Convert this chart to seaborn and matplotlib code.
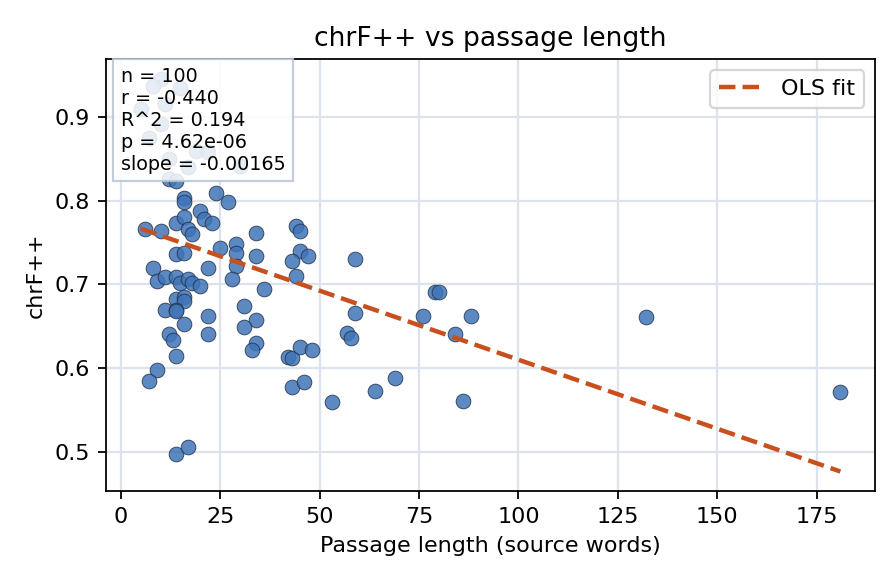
import numpy as np
import pandas as pd
import matplotlib
matplotlib.use("Agg")
import matplotlib.pyplot as plt
import seaborn as sns

# passage length (source words) and chrF++ per passage
passage_len = [10, 8, 15, 5, 11, 10, 7, 19, 22, 12, 17, 30, 12, 14,
               16, 16, 24, 27, 6, 10, 14, 16, 20, 21, 23, 17, 18, 25,
               14, 16, 8, 9, 11, 14, 15, 17, 18, 20, 22, 29, 29, 29, 28,
               34, 34, 14, 16, 16, 11, 14, 14, 22, 16, 22, 12, 13, 14, 9,
               7, 14, 17, 36, 31, 34, 31, 34, 33, 44, 45, 45, 43, 47, 44,
               59, 42, 43, 45, 48, 43, 46, 53, 59, 57, 58, 64, 69, 79, 80,
               76, 88, 84, 86, 132, 181]
chrf = [0.946, 0.937, 0.935, 0.910, 0.916, 0.892, 0.875, 0.859, 0.858,
        0.850, 0.840, 0.841, 0.826, 0.824,
        0.803, 0.799, 0.809, 0.798, 0.766, 0.764, 0.774, 0.780, 0.788,
        0.778, 0.774, 0.766, 0.760, 0.744, 0.736, 0.738, 0.720, 0.704,
        0.709, 0.709, 0.702, 0.706, 0.702, 0.698, 0.720, 0.748, 0.738,
        0.722, 0.706, 0.762, 0.734, 0.682, 0.685, 0.680, 0.670, 0.670,
        0.668, 0.662, 0.653, 0.641, 0.641, 0.634, 0.615, 0.598, 0.585,
        0.497, 0.506, 0.694, 0.674, 0.657, 0.649, 0.630, 0.622, 0.770,
        0.764, 0.740, 0.728, 0.734, 0.710, 0.730, 0.613, 0.612, 0.625,
        0.621, 0.577, 0.583, 0.559, 0.666, 0.642, 0.636, 0.572, 0.588,
        0.691, 0.691, 0.662, 0.662, 0.641, 0.561, 0.661, 0.571]

ols_slope = -0.00165
ols_intercept = 0.775
stats_lines = ["n = 100", "r = -0.440", "R^2 = 0.194", "p = 4.62e-06",
               "slope = -0.00165"]

df = pd.DataFrame({"len": passage_len, "chrf": chrf})

fig, ax = plt.subplots(figsize=(5.6, 3.65), dpi=160)

sns.scatterplot(data=df, x="len", y="chrf", ax=ax, s=44, color="#3f74b8",
                alpha=0.85, edgecolor="#1f2f45", linewidth=0.4, zorder=3)

# OLS line over the data range
xs = np.array([df["len"].min(), df["len"].max()])
ax.plot(xs, ols_intercept + ols_slope * xs, ls="--", color="#c8501e", lw=2,
        label="OLS fit", zorder=4)

ax.grid(True, color="#dde3ec", lw=1, zorder=0)
ax.set_axisbelow(True)

ax.text(0.02, 0.982, "\n".join(stats_lines), transform=ax.transAxes,
        va="top", ha="left", fontsize=8.6, zorder=5,
        bbox=dict(boxstyle="square,pad=0.4", facecolor="white", alpha=0.85,
                  edgecolor="#b8c4d4"))

ax.legend(loc="upper right", fontsize=10)
ax.set_title("chrF++ vs passage length", fontsize=12)
ax.set_xlabel("Passage length (source words)", fontsize=10)
ax.set_ylabel("chrF++", fontsize=10)
ax.tick_params(labelsize=10)

fig.subplots_adjust(left=0.118, right=0.977, top=0.899, bottom=0.159)
plt.savefig("out.png", dpi=160)
